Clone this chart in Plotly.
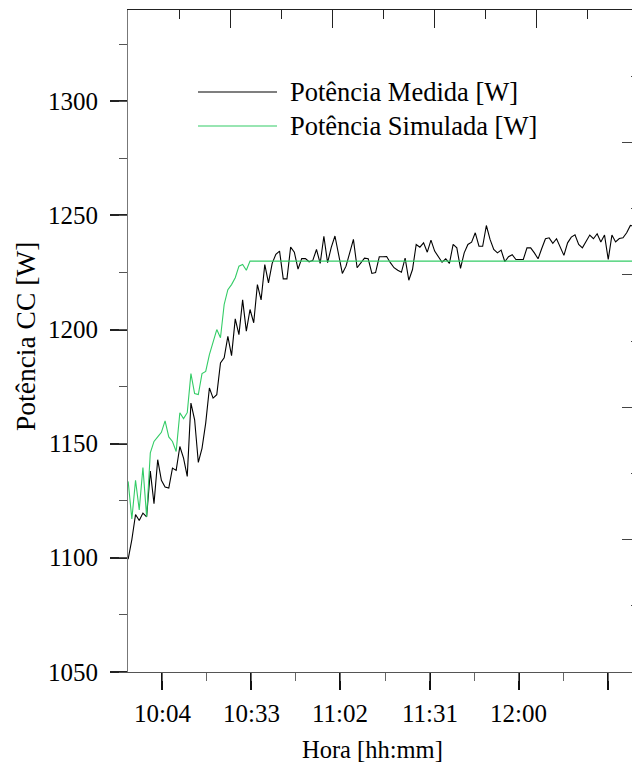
import pandas as pd
import plotly.graph_objects as go

# ---------------- data ----------------
start_time = "2024-01-01 09:53:00"
sample_step = "72s"

potencia_medida = [
    1099.4, 1108.0, 1119.0, 1116.4, 1119.6, 1118.0, 1138.0, 1123.7, 1143.0, 1134.0,
    1131.0, 1130.6, 1139.3, 1138.3, 1148.8, 1143.7, 1135.7, 1167.8, 1160.5, 1141.8,
    1148.0, 1159.0, 1174.4, 1170.0, 1171.5, 1185.4, 1187.6, 1197.0, 1188.6, 1204.7,
    1197.8, 1213.0, 1199.3, 1208.8, 1203.0, 1219.7, 1213.0, 1228.5, 1220.5, 1229.0,
    1233.0, 1234.4, 1222.2, 1222.2, 1236.1, 1233.9, 1226.5, 1231.1, 1231.1, 1229.7,
    1230.3, 1235.1, 1229.0, 1240.9, 1229.3, 1236.0, 1241.0, 1232.0, 1224.6, 1227.8,
    1234.0, 1239.5, 1227.1, 1229.3, 1231.3, 1231.0, 1224.6, 1225.0, 1231.9, 1231.9,
    1232.0, 1229.3, 1227.1, 1226.0, 1225.1, 1231.3, 1221.6, 1226.3, 1237.3, 1236.1,
    1238.0, 1233.9, 1239.2, 1234.4, 1232.0, 1229.5, 1231.0, 1229.0, 1237.3, 1235.8,
    1226.8, 1233.6, 1237.3, 1238.3, 1242.4, 1236.5, 1236.5, 1245.6, 1239.5, 1235.1,
    1233.6, 1234.8, 1229.7, 1231.9, 1232.8, 1230.7, 1230.7, 1230.7, 1235.8, 1235.8,
    1233.6, 1231.0, 1235.5, 1239.8, 1240.2, 1237.8, 1239.8, 1235.8, 1232.5, 1238.0,
    1240.5, 1241.5, 1237.3, 1235.8, 1238.7, 1241.4, 1239.8, 1242.0, 1238.4, 1241.4,
    1230.7, 1241.4, 1238.4, 1239.9, 1240.2, 1242.4, 1245.6, 1245.3, 1242.4, 1240.0,
]

potencia_simulada = [
    1133.5, 1117.0, 1134.0, 1121.0, 1139.6, 1118.0, 1146.0, 1151.0, 1153.0, 1155.0,
    1160.0, 1153.0, 1151.0, 1146.6, 1163.6, 1161.0, 1163.6, 1180.7, 1172.0, 1171.5,
    1180.7, 1181.7, 1189.0, 1195.0, 1200.0, 1196.4, 1211.0, 1217.5, 1219.7, 1222.7,
    1227.8, 1228.5, 1226.0, 1230.0, 1230.0, 1230.0, 1230.0, 1230.0, 1230.0, 1230.0,
    1230.0, 1230.0, 1230.0, 1230.0, 1230.0, 1230.0, 1230.0, 1230.0, 1230.0, 1230.0,
    1230.0, 1230.0, 1230.0, 1230.0, 1230.0, 1230.0, 1230.0, 1230.0, 1230.0, 1230.0,
    1230.0, 1230.0, 1230.0, 1230.0, 1230.0, 1230.0, 1230.0, 1230.0, 1230.0, 1230.0,
    1230.0, 1230.0, 1230.0, 1230.0, 1230.0, 1230.0, 1230.0, 1230.0, 1230.0, 1230.0,
    1230.0, 1230.0, 1230.0, 1230.0, 1230.0, 1230.0, 1230.0, 1230.0, 1230.0, 1230.0,
    1230.0, 1230.0, 1230.0, 1230.0, 1230.0, 1230.0, 1230.0, 1230.0, 1230.0, 1230.0,
    1230.0, 1230.0, 1230.0, 1230.0, 1230.0, 1230.0, 1230.0, 1230.0, 1230.0, 1230.0,
    1230.0, 1230.0, 1230.0, 1230.0, 1230.0, 1230.0, 1230.0, 1230.0, 1230.0, 1230.0,
    1230.0, 1230.0, 1230.0, 1230.0, 1230.0, 1230.0, 1230.0, 1230.0, 1230.0, 1230.0,
    1230.0, 1230.0, 1230.0, 1230.0, 1230.0, 1230.0, 1230.0, 1230.0, 1230.0, 1230.0,
]

series_names = ["Potência Medida [W]", "Potência Simulada [W]"]
x_title = "Hora [hh:mm]"
y_title = "Potência CC [W]"
x_tick_labels = ["10:04", "10:33", "11:02", "11:31", "12:00", ""]
x_tick_times = ["10:04", "10:33", "11:02", "11:31", "12:00", "12:29"]
y_tick_values = [1050, 1100, 1150, 1200, 1250, 1300]
x_range = ["2024-01-01 09:52:57", "2024-01-01 12:39:00"]
y_range = [1050, 1340]
day = "2024-01-01 "

times = pd.date_range(start=start_time, periods=len(potencia_medida), freq=sample_step)
tickvals = [pd.Timestamp(day + t) for t in x_tick_times]

# ---------------- layout geometry ----------------
W, H = 640, 765
L, R, T, B = 128, 639, 10, 672
FONT = "Liberation Serif"
FS_TICK = 25
FS_LEG = 26.5
colors = ["#000000", "#33cc66"]


def px(xp):
    return (xp - L) / (R - L)


def py(yp):
    return (B - yp) / (B - T)


fig = go.Figure()
fig.add_trace(go.Scatter(x=times, y=potencia_medida, mode="lines",
                         line=dict(color=colors[0], width=1.1), name=series_names[0],
                         showlegend=False))
fig.add_trace(go.Scatter(x=times, y=potencia_simulada, mode="lines",
                         line=dict(color=colors[1], width=1.1), name=series_names[1],
                         showlegend=False))
# empty traces that bring up the tick-mark / frame axes
for xa, ya in [("x2", "y2"), ("x3", "y3"), ("x4", "y4"), ("x5", "y5")]:
    fig.add_trace(go.Scatter(x=[None], y=[None], xaxis=xa, yaxis=ya,
                             showlegend=False, hoverinfo="skip"))

noax = dict(showgrid=False, zeroline=False)

fig.update_layout(
    width=W, height=H,
    margin=dict(l=L, r=W - R, t=T, b=H - B, pad=0),
    plot_bgcolor="white", paper_bgcolor="white",
    font=dict(family=FONT, size=FS_TICK, color="black"),
    showlegend=False,
    # main axes: lines only (labels as text below, marks by helper axes)
    xaxis=dict(type="date", range=x_range, ticks="", showticklabels=False,
               showline=True, linecolor="#555", linewidth=1, **noax),
    yaxis=dict(range=y_range, ticks="", showticklabels=False,
               showline=True, linecolor="#777", linewidth=1, **noax),
    # bottom major / minor ticks
    xaxis3=dict(
        type="date", overlaying="x", side="bottom", anchor="y3", range=x_range,
        tickmode="array", tickvals=tickvals,
        ticks="outside", ticklen=17, tickwidth=1.5, tickcolor="#111",
        showticklabels=False, showline=False, **noax,
    ),
    xaxis4=dict(
        type="date", overlaying="x", side="bottom", anchor="y4", range=x_range,
        tickmode="linear", tick0=tickvals[0], dtick=14.5 * 60000,
        ticks="outside", ticklen=8, tickwidth=1, tickcolor="#666",
        showticklabels=False, showline=False, **noax,
    ),
    # left major / minor ticks
    yaxis3=dict(
        overlaying="y", side="left", anchor="x3", range=y_range,
        tickmode="linear", tick0=1050, dtick=50,
        ticks="outside", ticklen=17, tickwidth=1.5, tickcolor="#222",
        showticklabels=False, showline=False, **noax,
    ),
    yaxis4=dict(
        overlaying="y", side="left", anchor="x4", range=y_range,
        tickmode="linear", tick0=1050, dtick=25,
        ticks="outside", ticklen=8, tickwidth=1, tickcolor="#555",
        showticklabels=False, showline=False, **noax,
    ),
    # top frame: major / minor
    xaxis2=dict(
        overlaying="x", side="top", anchor="y2", range=[0, 10],
        tickmode="linear", tick0=0, dtick=2,
        ticks="inside", ticklen=18, tickcolor="#222", tickwidth=1,
        showticklabels=False, showline=True, linecolor="#222", linewidth=1, **noax,
    ),
    xaxis5=dict(
        overlaying="x", side="top", anchor="y5", range=[0, 10],
        tickmode="linear", tick0=0, dtick=1,
        ticks="inside", ticklen=9, tickcolor="#222", tickwidth=1,
        showticklabels=False, showline=False, **noax,
    ),
    # right frame: major / minor
    yaxis2=dict(
        overlaying="y", side="right", anchor="x2", range=[0, 5],
        tickmode="linear", tick0=0, dtick=1,
        ticks="inside", ticklen=17, tickcolor="#444", tickwidth=1,
        showticklabels=False, showline=True, linecolor="#222", linewidth=1, **noax,
    ),
    yaxis5=dict(
        overlaying="y", side="right", anchor="x5", range=[0, 5],
        tickmode="linear", tick0=0, dtick=0.5,
        ticks="inside", ticklen=8, tickcolor="#444", tickwidth=1,
        showticklabels=False, showline=False, **noax,
    ),
)

tick_font = dict(family=FONT, size=FS_TICK, color="black")
# x tick labels
for tv, lab in zip(tickvals, x_tick_labels):
    if lab:
        fig.add_annotation(xref="x", yref="paper", x=tv, y=py(713), text=lab,
                           showarrow=False, xanchor="center", yanchor="middle",
                           font=tick_font)
# y tick labels
for v in y_tick_values:
    fig.add_annotation(xref="paper", yref="y", x=px(100), y=v, text=str(v),
                       showarrow=False, xanchor="right", yanchor="middle",
                       font=tick_font)

# manual legend (line samples + labels)
legend_rows = [92, 126]
for name, col, yr in zip(series_names, colors, legend_rows):
    fig.add_shape(type="line", xref="paper", yref="paper",
                  x0=px(198), x1=px(277), y0=py(yr), y1=py(yr),
                  line=dict(color=col, width=1.1))
    fig.add_annotation(xref="paper", yref="paper", x=px(288), y=py(yr),
                       text=name, showarrow=False, xanchor="left", yanchor="middle",
                       font=dict(family=FONT, size=FS_LEG, color="black"))

# axis titles
fig.add_annotation(xref="paper", yref="paper", x=px(372), y=py(749), text=x_title,
                   showarrow=False, xanchor="center", yanchor="middle",
                   font=dict(family=FONT, size=24.5, color="black"))
fig.add_annotation(xref="paper", yref="paper", x=px(25), y=py(337), text=y_title,
                   showarrow=False, xanchor="center", yanchor="middle", textangle=-90,
                   font=dict(family=FONT, size=27.5, color="black"))

fig.write_html("out.html",
               config={"displayModeBar": False},
               post_script="document.body.style.margin='0';document.body.style.overflow='hidden';")
